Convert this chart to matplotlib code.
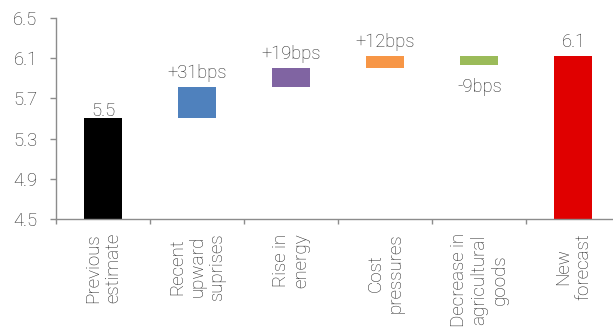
import matplotlib.pyplot as plt
from matplotlib.ticker import FixedLocator

categories = ["Previous\nestimate", "Recent\nupward\nsuprises", "Rise in\nenergy",
              "Cost\npressures", "Decrease in\nagricultural\ngoods", "New\nforecast"]
start_value = 5.5
changes = [0.31, 0.19, 0.12, -0.09]
change_labels = ["+31bps", "+19bps", "+12bps", "-9bps"]
final_value = 6.12
start_label = "5.5"
final_label = "6.1"
yticks = [4.5, 4.9, 5.3, 5.7, 6.1, 6.5]

colors = ["#000000", "#4F81BD", "#8064A2", "#F79646", "#9BBB59", "#E00000"]
text_col = "#262626"
axis_col = "#8C8C8C"

plt.rcParams['font.family'] = ['Roboto', 'DejaVu Sans']
plt.rcParams['font.weight'] = 'light'

fig = plt.figure(figsize=(6.13, 3.32), dpi=100)
ax = fig.add_axes([0.0914, 0.340, 0.9086, 0.607])

ymin = 4.5
w = 0.404
fs = 13.2

# first bar
ax.bar(0, start_value - ymin, bottom=ymin, width=w, color=colors[0])
ax.text(0, start_value + 0.02, start_label, ha='center', va='baseline', fontsize=fs, color=text_col)

# floating change bars
level = start_value
for i, (c, lab) in enumerate(zip(changes, change_labels), start=1):
    lo = min(level, level + c)
    ax.bar(i, abs(c), bottom=lo, width=w, color=colors[i])
    if c >= 0:
        ax.text(i, level + c + 0.09, lab, ha='center', va='baseline', fontsize=fs, color=text_col)
    else:
        ax.text(i, level + c - 0.27, lab, ha='center', va='baseline', fontsize=fs, color=text_col)
    level += c

# final bar
ax.bar(5, final_value - ymin, bottom=ymin, width=w, color=colors[5])
ax.text(5, final_value + 0.09, final_label, ha='center', va='baseline', fontsize=fs, color=text_col)

ax.set_ylim(4.5, 6.5)
ax.set_xlim(-0.5, 5.42)
ax.set_yticks(yticks)
ax.set_yticklabels([f"{v:.1f}" for v in yticks])
ax.set_xticks(range(len(categories)))
ax.set_xticklabels(categories, rotation=90, ha='center', va='top', multialignment='center',
                   linespacing=1.15)
ax.xaxis.set_minor_locator(FixedLocator([-0.5, 0.5, 1.5, 2.5, 3.5, 4.5]))
ax.tick_params(axis='x', which='major', length=0, pad=10, labelsize=13.5, labelcolor=text_col)
ax.tick_params(axis='x', which='minor', length=3.6, width=1, color=axis_col, direction='out')
ax.tick_params(axis='y', length=4.3, width=1, color=axis_col, labelsize=fs, labelcolor=text_col, pad=9)

for s in ['top', 'right']:
    ax.spines[s].set_visible(False)
for s in ['left', 'bottom']:
    ax.spines[s].set_color(axis_col)
    ax.spines[s].set_linewidth(1)

fig.savefig("out.png", dpi=100)
